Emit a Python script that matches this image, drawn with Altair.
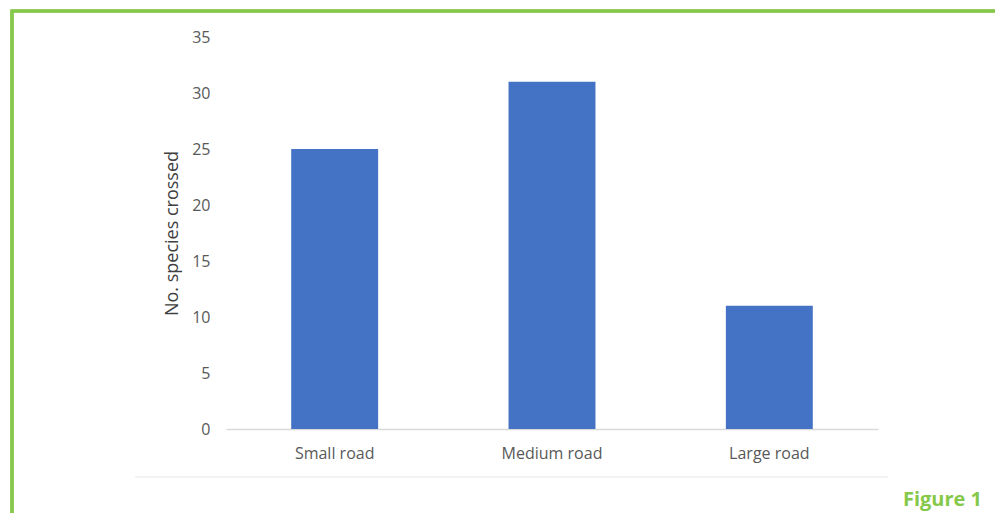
import altair as alt
import pandas as pd

categories = ["Small road", "Medium road", "Large road"]
values = [25, 31, 11]
y_ticks = [0, 5, 10, 15, 20, 25, 30, 35]

df = pd.DataFrame({"road": categories, "species": values})

W, H = 652, 392
GREEN = "#86c84a"

bars = alt.Chart(df).mark_bar(color="#4472c4").encode(
    x=alt.X("road:N", sort=categories,
            scale=alt.Scale(paddingInner=0.6, paddingOuter=0.3),
            axis=alt.Axis(title=None, labelAngle=0, ticks=False, labelPadding=16,
                          domainColor="#d9d9d9", domainWidth=1.5,
                          labelColor="#595959", labelFontSize=16, labelFont="Open Sans")),
    y=alt.Y("species:Q", scale=alt.Scale(domain=[0, 35], nice=False),
            axis=alt.Axis(title="No. species crossed", values=y_ticks, grid=False,
                          domain=False, ticks=False, labelPadding=16,
                          labelColor="#595959", labelFontSize=16, labelFont="Open Sans",
                          titleColor="#404040", titleFontSize=18, titleFont="Open Sans",
                          titleFontWeight="normal", titlePadding=10)),
)

frame = alt.Chart(df).mark_rect(fill=None, stroke=GREEN, strokeWidth=3, clip=False).encode(
    x=alt.value(-214), x2=alt.value(800), y=alt.value(-26), y2=alt.value(520)
)

faint = alt.Chart(df).mark_rule(color="#f3f3f3", strokeWidth=2).encode(
    x=alt.value(-91), x2=alt.value(662), y=alt.value(440)
)

label = alt.Chart(pd.DataFrame({"t": ["Figure 1"]})).mark_text(
    align="right", baseline="alphabetic", fontSize=20, fontWeight="bold",
    font="Open Sans", color=GREEN
).encode(text="t:N", x=alt.value(756), y=alt.value(469))

chart = alt.layer(frame, faint, bars, label).properties(
    width=W, height=H,
    autosize=alt.AutoSizeParams(type="none"),
    padding={"left": 218, "top": 29, "right": 987 - 218 - W, "bottom": 505 - 29 - H},
).configure_view(stroke=None)

chart.save("out.html", embed_options={"renderer": "svg", "actions": False})
